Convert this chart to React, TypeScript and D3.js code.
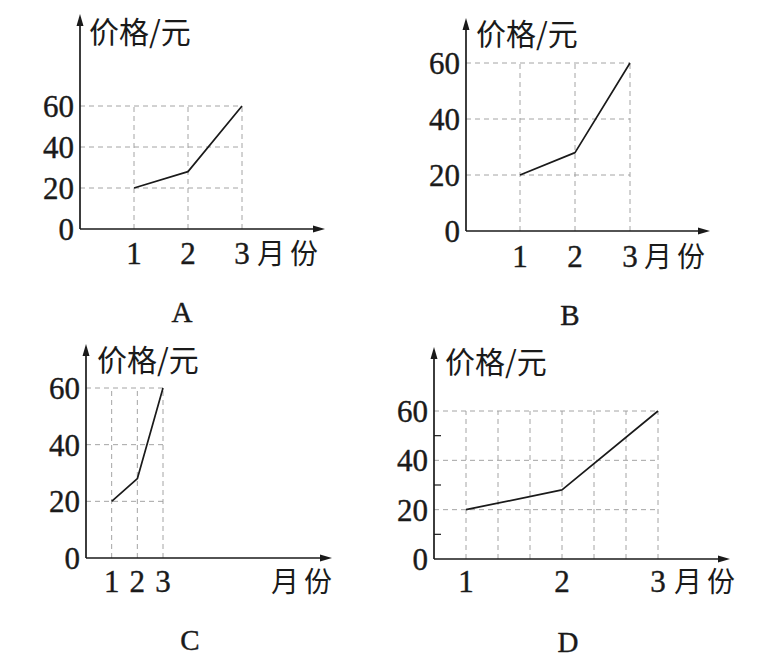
import * as d3 from 'd3';

// data (same three monthly prices, drawn on four different scales)
const months = [1, 2, 3];
const prices = [20, 28, 60];
const yTicks = [0, 20, 40, 60];
const yTitle = '价格/元';
const xTitle = '月份';
const panelNames = ['A', 'B', 'C', 'D'];

const W = 771;
const H = 662;
const serif = '"Liberation Serif", "DejaVu Serif", serif';
const cjk = '"Noto Sans CJK SC", sans-serif';
const ink = '#1a1a1a';

interface Layout {
  x0: number; y0: number;          // origin in px
  xDomain: [number, number];
  xRange: [number, number];
  yTop: number;                    // px of value 60
  axisEndX: number; axisTopY: number;
  titleX: number; titleY: number;
  xLabelY: number; unitX: number;
  nameX: number; nameY: number;
  xGrid?: number[];
  minorY?: number[];
}

const layouts: Layout[] = [
  { x0: 80, y0: 229, xDomain: [0, 3], xRange: [80, 242], yTop: 106, axisEndX: 325, axisTopY: 14,
    titleX: 89, titleY: 43, xLabelY: 264, unitX: 257, nameX: 182, nameY: 322 },
  { x0: 466, y0: 231, xDomain: [0, 3], xRange: [465, 630], yTop: 63, axisEndX: 710, axisTopY: 18,
    titleX: 476, titleY: 45, xLabelY: 267, unitX: 644, nameX: 570, nameY: 325 },
  { x0: 86, y0: 558, xDomain: [0, 3], xRange: [86, 163], yTop: 388, axisEndX: 332, axisTopY: 344,
    titleX: 97, titleY: 371, xLabelY: 592, unitX: 271, nameX: 190, nameY: 650 },
  { x0: 434, y0: 559, xDomain: [2 / 3, 3], xRange: [434, 658], yTop: 411, axisEndX: 730, axisTopY: 347,
    titleX: 445, titleY: 373, xLabelY: 592, unitX: 674, nameX: 568, nameY: 652,
    xGrid: [1, 4 / 3, 5 / 3, 2, 7 / 3, 8 / 3, 3], minorY: [10, 30, 50] },
];

function Panel({ L, name }: { L: Layout; name: string }) {
  const x = d3.scaleLinear().domain(L.xDomain).range(L.xRange);
  const y = d3.scaleLinear().domain([0, 60]).range([L.y0, L.yTop]);
  const line = d3.line<number>().x((_, i) => x(months[i])).y(d => y(d));
  const vGrid = L.xGrid ?? months;
  const xMax = x(months[months.length - 1]);

  return (
    <g>
      {/* grid */}
      {yTicks.filter(v => v > 0).map(v => (
        <line key={'h' + v} x1={L.x0} x2={xMax} y1={y(v)} y2={y(v)}
          stroke="#9a9a9a" strokeWidth={0.9} strokeDasharray="5,4" />
      ))}
      {vGrid.map((v, i) => (
        <line key={'v' + i} x1={x(v)} x2={x(v)} y1={L.y0} y2={y(60)}
          stroke="#9a9a9a" strokeWidth={0.9} strokeDasharray="5,4" />
      ))}

      {/* axes */}
      <line x1={L.x0} x2={L.axisEndX - 8} y1={L.y0} y2={L.y0} stroke={ink} strokeWidth={1.7} />
      <path d={`M${L.axisEndX},${L.y0} L${L.axisEndX - 12},${L.y0 - 3.5} L${L.axisEndX - 12},${L.y0 + 3.5} Z`} fill={ink} />
      <line x1={L.x0} x2={L.x0} y1={L.y0} y2={L.axisTopY + 8} stroke={ink} strokeWidth={1.7} />
      <path d={`M${L.x0},${L.axisTopY} L${L.x0 - 3.5},${L.axisTopY + 12} L${L.x0 + 3.5},${L.axisTopY + 12} Z`} fill={ink} />
      {(L.minorY ?? []).map(v => (
        <line key={'m' + v} x1={L.x0} x2={L.x0 + 7} y1={y(v)} y2={y(v)} stroke={ink} strokeWidth={1.2} />
      ))}

      {/* data line */}
      <path d={line(prices) ?? ''} fill="none" stroke={ink} strokeWidth={1.7} strokeLinejoin="round" />

      {/* y tick labels */}
      {yTicks.map(v => (
        <text key={'yl' + v} x={L.x0 - 6} y={y(v)} dy="0.35em" textAnchor="end"
          fontFamily={serif} fontSize={31} fill={ink} stroke={ink} strokeWidth={0.4}>{v}</text>
      ))}
      {/* x tick labels */}
      {months.map(m => (
        <text key={'xl' + m} x={x(m)} y={L.xLabelY} textAnchor="middle"
          fontFamily={serif} fontSize={31} fill={ink} stroke={ink} strokeWidth={0.4}>{m}</text>
      ))}

      <text x={L.titleX} y={L.titleY} fontFamily={cjk} fontSize={30} fill={ink}>{yTitle}</text>
      <text x={L.unitX} y={L.xLabelY} fontFamily={cjk} fontSize={28} letterSpacing={5} fill={ink}>{xTitle}</text>
      <text x={L.nameX} y={L.nameY} textAnchor="middle" fontFamily={serif} fontSize={29}
        fill={ink} stroke={ink} strokeWidth={0.4}>{name}</text>
    </g>
  );
}

export default function App() {
  return (
    <svg width={W} height={H} viewBox={`0 0 ${W} ${H}`}
      style={{ position: 'absolute', left: 0, top: 0, background: '#fff' }}>
      <rect width={W} height={H} fill="#fff" />
      {layouts.map((L, i) => (
        <Panel key={panelNames[i]} L={L} name={panelNames[i]} />
      ))}
    </svg>
  );
}
